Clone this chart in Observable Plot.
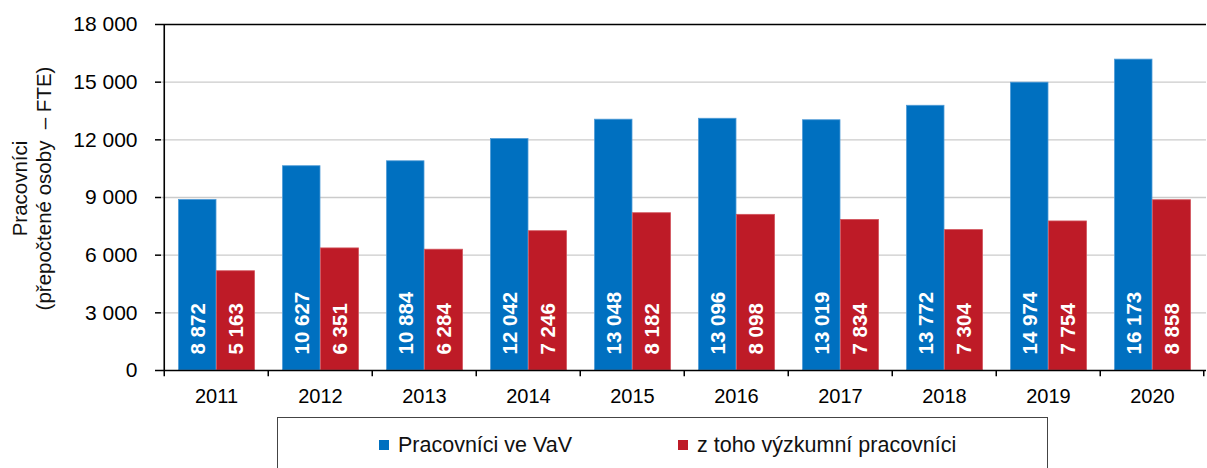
<!DOCTYPE html>
<html><head><meta charset="utf-8">
<script src="https://cdn.jsdelivr.net/npm/d3@7"></script>
<script src="https://cdn.jsdelivr.net/npm/@observablehq/plot@0.6"></script>
<style>
html,body{margin:0;padding:0;background:#fff;overflow:hidden;width:1207px;height:468px}
body{font-family:"Liberation Sans",Arial,Helvetica,sans-serif;position:relative}
#chart svg{display:block}
#legend{position:absolute;left:277px;top:417px;width:771px;height:80px;border:1px solid #444;box-sizing:border-box;background:#fff}
.item{position:absolute;top:13px;height:28px;display:flex;align-items:center;font-size:21.5px;color:#111;white-space:nowrap}
.sw{width:10px;height:10px;margin-right:9px;flex:none}
</style></head><body>
<div id="chart"></div>
<div id="legend"></div>
<script>
const years = ["2011","2012","2013","2014","2015","2016","2017","2018","2019","2020"];
const staff = [8872,10627,10884,12042,13048,13096,13019,13772,14974,16173];
const researchers = [5163,6351,6284,7246,8182,8098,7834,7304,7754,8858];
const yTicks = [0,3000,6000,9000,12000,15000,18000];
const gridTicks = [3000,6000,9000,12000,15000];
const seriesNames = ["Pracovníci ve VaV","z toho výzkumní pracovníci"];
const seriesColors = ["#0070C0","#BE1B27"];
const seriesEdges = ["#4f9bd6","#d2545c"];
const yTitle = "Pracovníci\n(přepočtené osoby  – FTE)";

const fmt = n => d3.format(",")(n).replace(/,/g, " ");
const data = years.map((year, i) => ({year, staff: staff[i], researchers: researchers[i]}));

const W = 1207, H = 412, ML = 161, MR = 1;
const band = (W - ML - MR) / years.length;
const half = band / 2;

const chart = Plot.plot({
  width: W,
  height: H,
  marginLeft: ML,
  marginRight: MR,
  marginTop: 24,
  marginBottom: 42,
  style: {fontFamily: '"Liberation Sans", Arial, sans-serif', color: "#000", background: "#fff", overflow: "visible"},
  x: {type: "band", domain: years, paddingInner: 0, paddingOuter: 0},
  y: {domain: [0, 18000]},
  marks: [
    Plot.ruleY(gridTicks, {stroke: "#cbcbcb", strokeWidth: 1.3}),
    Plot.barY(data, {x: "year", y: "staff", fill: seriesColors[0], stroke: seriesEdges[0], strokeWidth: 0.8, insetLeft: 14.5, insetRight: 52}),
    Plot.barY(data, {x: "year", y: "researchers", fill: seriesColors[1], stroke: seriesEdges[1], strokeWidth: 0.8, insetLeft: 52.5, insetRight: 13.5}),
    Plot.text(data, {x: "year", y: 0, text: d => fmt(d.staff), rotate: -90, textAnchor: "start", lineAnchor: "middle", dx: -18.5, dy: -16, fill: "#fff", fontWeight: "bold", fontSize: 20.5}),
    Plot.text(data, {x: "year", y: 0, text: d => fmt(d.researchers), rotate: -90, textAnchor: "start", lineAnchor: "middle", dx: 19.5, dy: -16, fill: "#fff", fontWeight: "bold", fontSize: 20.5}),
    Plot.ruleY([0, 18000], {stroke: "#000", strokeWidth: 1.6}),
    Plot.ruleX([years[0]], {x: d => d, dx: -half, y1: 0, y2: 18000, stroke: "#000", strokeWidth: 1.6}),
    Plot.ruleX(years, {x: d => d, dx: -half, y1: 0, y2: -320, stroke: "#000", strokeWidth: 1.5}),
    Plot.ruleX([years[years.length - 1]], {x: d => d, dx: half - 1, y1: 0, y2: -320, stroke: "#000", strokeWidth: 1.5}),
    Plot.axisY(yTicks, {tickFormat: fmt, tickSize: 6, tickPadding: 18, fontSize: 21, label: null, stroke: "#000", strokeWidth: 1.5}),
    Plot.axisX({tickSize: 0, tickPadding: 18, fontSize: 20, label: null}),
    Plot.text([yTitle], {frameAnchor: "left", text: d => d, dx: -130, dy: -9, rotate: -90, textAnchor: "middle", lineAnchor: "middle", lineHeight: 1.15, fontSize: 20.5, fill: "#111"})
  ]
});
document.getElementById("chart").appendChild(chart);

const legend = document.getElementById("legend");
const itemLeft = [101, 400];
seriesNames.forEach((name, i) => {
  const it = document.createElement("div");
  it.className = "item";
  it.style.left = itemLeft[i] + "px";
  const sw = document.createElement("span");
  sw.className = "sw";
  sw.style.background = seriesColors[i];
  const tx = document.createElement("span");
  tx.textContent = name;
  it.appendChild(sw);
  it.appendChild(tx);
  legend.appendChild(it);
});
</script>
</body></html>
